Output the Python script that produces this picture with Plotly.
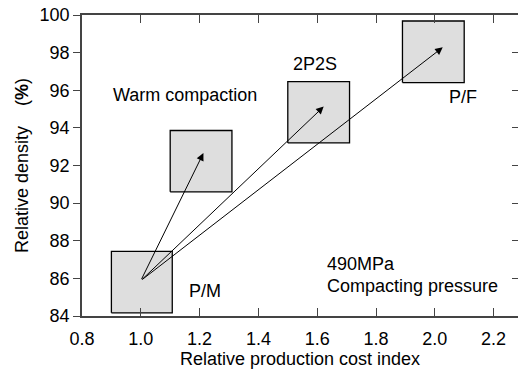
import plotly.graph_objects as go

# ---- data ----
box_labels = ["P/M", "Warm", "2P2S", "P/F"]
box_x0 = [0.90, 1.10, 1.50, 1.89]
box_x1 = [1.107, 1.31, 1.71, 2.10]
box_y0 = [84.17, 90.60, 93.20, 96.41]
box_y1 = [87.44, 93.86, 96.46, 99.68]

arrow_start = (1.0, 85.88)
arrow_tip_x = [1.213, 1.622, 2.027]
arrow_tip_y = [92.66, 95.13, 98.28]

label_text = ["P/M", "P/F", "2P2S"]
label_x = [1.217, 2.095, 1.593]
label_y = [85.31, 95.66, 97.38]

left_text = ["Warm compaction", "490MPa", "Compacting pressure"]
left_x = [0.899, 1.628, 1.628]
left_y = [95.75, 86.77, 85.58]

x_ticks = [0.8, 1.0, 1.2, 1.4, 1.6, 1.8, 2.0, 2.2]
y_ticks = [84, 86, 88, 90, 92, 94, 96, 98, 100]

FONT = "Liberation Sans, Arial, sans-serif"
AX = "#444444"

fig = go.Figure()

for i in range(len(box_labels)):
    fig.add_trace(go.Scatter(
        x=[box_x0[i], box_x1[i], box_x1[i], box_x0[i], box_x0[i]],
        y=[box_y0[i], box_y0[i], box_y1[i], box_y1[i], box_y0[i]],
        mode="lines", fill="toself", fillcolor="#dedede",
        line=dict(color="black", width=1.3), showlegend=False, hoverinfo="skip"))

fig.add_trace(go.Scatter(x=[None], y=[None], yaxis="y2", showlegend=False, hoverinfo="skip"))

annotations = []
for tx, ty in zip(arrow_tip_x, arrow_tip_y):
    annotations.append(dict(
        x=tx, y=ty, ax=arrow_start[0], ay=arrow_start[1],
        xref="x", yref="y", axref="x", ayref="y",
        showarrow=True, arrowhead=2, arrowsize=1.5, arrowwidth=1,
        arrowcolor="black", text=""))
for t, x, y in zip(label_text, label_x, label_y):
    annotations.append(dict(x=x, y=y, xref="x", yref="y", text=t, showarrow=False,
                            xanchor="center", yanchor="middle",
                            font=dict(family=FONT, size=18, color="black")))
for t, x, y in zip(left_text, left_x, left_y):
    annotations.append(dict(x=x, y=y, xref="x", yref="y", text=t, showarrow=False,
                            xanchor="left", yanchor="middle",
                            font=dict(family=FONT, size=18, color="black")))

fig.update_layout(
    width=518, height=371,
    margin=dict(l=82, r=0, t=15, b=55),
    paper_bgcolor="white", plot_bgcolor="white",
    font=dict(family=FONT, size=18, color="black"),
    annotations=annotations,
    xaxis=dict(range=[0.8, 2.283], tickvals=x_ticks, ticktext=[f"{v:.1f}" for v in x_ticks],
               ticks="inside", ticklen=8, tickcolor=AX, tickwidth=1.3,
               ticklabelstandoff=6,
               showline=True, linecolor=AX, linewidth=1.5, mirror="ticks",
               showgrid=False, zeroline=False,
               title=dict(text="Relative production cost index", standoff=4,
                          font=dict(size=18))),
    yaxis=dict(range=[84, 100], tickvals=y_ticks,
               ticks="outside", ticklen=7, tickcolor=AX, tickwidth=1.3,
               showline=True, linecolor=AX, linewidth=1.5, mirror=False,
               showgrid=False, zeroline=False,
               title=dict(text="Relative density\u00a0\u00a0\u00a0\u00a0(<b>%</b>)", standoff=6,
                          font=dict(size=18))),
    yaxis2=dict(range=[84, 100], overlaying="y", side="right", tickvals=y_ticks,
                ticks="inside", ticklen=6, tickcolor=AX, tickwidth=1.3,
                showticklabels=False, showline=False, showgrid=False, zeroline=False),
)

fig.write_html("out.html")
